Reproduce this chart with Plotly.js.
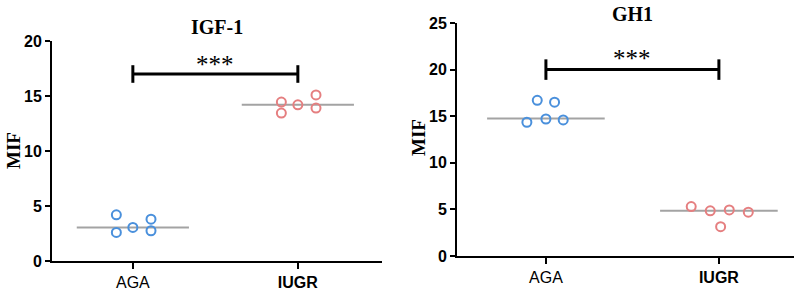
<!DOCTYPE html>
<html>
<head>
<meta charset="utf-8">
<script src="https://cdn.plot.ly/plotly-3.0.1.min.js"></script>
<style>html,body{margin:0;padding:0;background:#fff;}#chart{width:810px;height:290px;}</style>
</head>
<body>
<div id="chart"></div>
<script>
// ---- data ----
const categories = ["AGA", "IUGR"];
const categoryLabels = ["AGA", "<b>IUGR</b>"];

const igf1_AGA = [4.2, 3.05, 3.8, 2.6, 2.75];
const igf1_AGA_jitter = [-0.1, 0, 0.11, -0.1, 0.11];
const igf1_IUGR = [14.45, 13.45, 14.2, 15.1, 13.9];
const igf1_IUGR_jitter = [-0.1, -0.1, 0, 0.11, 0.11];
const igf1_median = [3.05, 14.2];
const igf1_sig = 17;
const igf1_ticks = [0, 5, 10, 15, 20];

const gh1_AGA = [16.7, 16.5, 14.35, 14.7, 14.6];
const gh1_AGA_jitter = [-0.05, 0.05, -0.11, 0, 0.1];
const gh1_IUGR = [5.3, 4.85, 4.95, 4.7, 3.15];
const gh1_IUGR_jitter = [-0.16, -0.05, 0.06, 0.17, 0.01];
const gh1_median = [14.75, 4.85];
const gh1_sig = 20;
const gh1_ticks = [0, 5, 10, 15, 20, 25];

const sigLabel = "***";
const titles = ["IGF-1", "GH1"];
const yTitle = "MIF";

// ---- styles ----
const BLUE = "#4a90dc";
const RED = "#e57f80";
const GRAY = "#a3a3a3";

function pts(vals, jit, idx, color, xa, ya) {
  return {
    type: "scatter", mode: "markers", xaxis: xa, yaxis: ya,
    x: vals.map((v, i) => idx + jit[i]), y: vals,
    marker: {symbol: "circle-open", size: 9, color: color, line: {width: 2, color: color}},
    hoverinfo: "y"
  };
}
function medLine(med, idx, xa, ya) {
  return {
    type: "scatter", mode: "lines", xaxis: xa, yaxis: ya,
    x: [idx - 0.34, idx + 0.34], y: [med[idx], med[idx]],
    line: {color: GRAY, width: 2}, hoverinfo: "skip"
  };
}
function sigBar(yv, cap, xa, ya) {
  return {
    type: "scatter", mode: "lines", xaxis: xa, yaxis: ya,
    x: [0, 0, null, 0, 1, null, 1, 1],
    y: [yv - cap, yv + cap, null, yv, yv, null, yv - cap, yv + cap],
    line: {color: "#000", width: 3}, hoverinfo: "skip"
  };
}

const traces = [
  medLine(igf1_median, 0, "x", "y"),
  medLine(igf1_median, 1, "x", "y"),
  pts(igf1_AGA, igf1_AGA_jitter, 0, BLUE, "x", "y"),
  pts(igf1_IUGR, igf1_IUGR_jitter, 1, RED, "x", "y"),
  sigBar(igf1_sig, 0.8, "x", "y"),
  medLine(gh1_median, 0, "x2", "y2"),
  medLine(gh1_median, 1, "x2", "y2"),
  pts(gh1_AGA, gh1_AGA_jitter, 0, BLUE, "x2", "y2"),
  pts(gh1_IUGR, gh1_IUGR_jitter, 1, RED, "x2", "y2"),
  sigBar(gh1_sig, 1.1, "x2", "y2")
];

const sans = "Arial, Liberation Sans, sans-serif";
const serif = "Times New Roman, Liberation Serif, serif";

const xbase = {
  showline: true, linewidth: 2, linecolor: "#000", ticks: "outside", ticklen: 6, tickwidth: 2, tickcolor: "#000",
  tickvals: [0, 1], ticktext: categoryLabels, showgrid: false, zeroline: false,
  tickfont: {family: sans, size: 16, color: "#000"}
};
const ybase = {
  showline: true, linewidth: 2, linecolor: "#000", ticks: "outside", ticklen: 5, tickwidth: 2, tickcolor: "#000",
  showgrid: false, zeroline: false,
  tickfont: {family: sans, size: 16, color: "#000"}
};

const layout = {
  width: 810, height: 290,
  margin: {l: 0, r: 0, t: 0, b: 0},
  paper_bgcolor: "#fff", plot_bgcolor: "#fff",
  showlegend: false,
  xaxis: Object.assign({}, xbase, {domain: [0.0642, 0.4716], range: [-0.49, 1.51], anchor: "y"}),
  yaxis: Object.assign({}, ybase, {domain: [0.1, 0.8586], range: [0, 20], anchor: "x",
    tickvals: igf1_ticks, ticktext: igf1_ticks.map(t => "<b>" + t + "</b>")}),
  xaxis2: Object.assign({}, xbase, {domain: [0.5642, 0.9802], range: [-0.514, 1.434], anchor: "y2"}),
  yaxis2: Object.assign({}, ybase, {domain: [0.1172, 0.9207], range: [0, 25], anchor: "x2",
    tickvals: gh1_ticks, ticktext: gh1_ticks.map(t => "<b>" + t + "</b>")}),
  annotations: [
    {xref: "paper", yref: "paper", x: 217/810, y: 1 - 27/290, text: "<b>" + titles[0] + "</b>", showarrow: false,
     font: {family: serif, size: 20, color: "#000"}, xanchor: "center", yanchor: "middle"},
    {xref: "paper", yref: "paper", x: 632/810, y: 1 - 14/290, text: "<b>" + titles[1] + "</b>", showarrow: false,
     font: {family: serif, size: 20, color: "#000"}, xanchor: "center", yanchor: "middle"},
    {xref: "paper", yref: "paper", x: 13/810, y: 1 - 151/290, text: "<b>" + yTitle + "</b>", showarrow: false, textangle: -90,
     font: {family: serif, size: 19, color: "#000"}, xanchor: "center", yanchor: "middle"},
    {xref: "paper", yref: "paper", x: 418/810, y: 1 - 138/290, text: "<b>" + yTitle + "</b>", showarrow: false, textangle: -90,
     font: {family: serif, size: 19, color: "#000"}, xanchor: "center", yanchor: "middle"},
    {xref: "x", yref: "y", x: 0.5, y: 17.9, text: sigLabel, showarrow: false,
     font: {family: serif, size: 25, color: "#000"}, xanchor: "center", yanchor: "middle"},
    {xref: "x2", yref: "y2", x: 0.5, y: 21.2, text: sigLabel, showarrow: false,
     font: {family: serif, size: 25, color: "#000"}, xanchor: "center", yanchor: "middle"}
  ]
};

Plotly.newPlot("chart", traces, layout, {displayModeBar: false, staticPlot: true});
</script>
</body>
</html>
